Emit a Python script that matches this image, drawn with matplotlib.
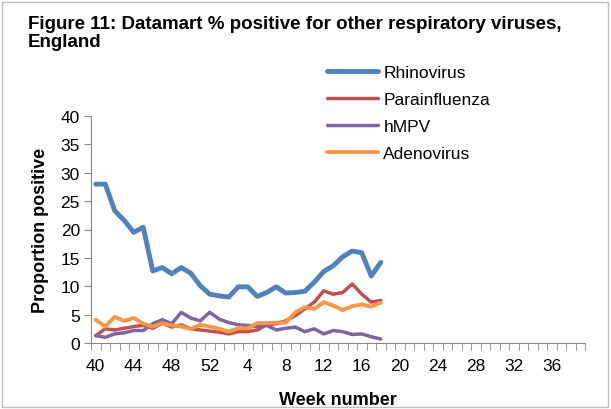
import matplotlib
matplotlib.use("Agg")
import matplotlib.pyplot as plt
from matplotlib.patches import Rectangle
from matplotlib.ticker import FixedLocator, NullFormatter

plt.rcParams['font.family'] = ['Liberation Sans', 'DejaVu Sans']

weeks = [40, 41, 42, 43, 44, 45, 46, 47, 48, 49, 50, 51, 52] + list(range(1, 40))
tick_weeks = [40, 44, 48, 52, 4, 8, 12, 16, 20, 24, 28, 32, 36]

rhinovirus = [28.0, 28.0, 23.3, 21.6, 19.5, 20.4, 12.7, 13.3, 12.2, 13.3, 12.3,
              10.1, 8.6, 8.3, 8.1, 9.9, 9.9, 8.2, 8.9, 9.9, 8.8, 8.9, 9.1, 10.7,
              12.6, 13.6, 15.2, 16.2, 15.9, 11.8, 14.2]
parainfluenza = [1.3, 2.5, 2.3, 2.6, 2.9, 3.1, 2.6, 3.5, 2.8, 3.2, 2.5, 2.3, 2.1,
                 1.9, 1.6, 2.0, 2.0, 2.3, 3.2, 3.4, 3.9, 4.8, 6.0, 7.2, 9.2, 8.6,
                 8.9, 10.4, 8.6, 7.2, 7.5]
hmpv = [1.3, 1.0, 1.6, 1.8, 2.2, 2.2, 3.4, 4.1, 3.4, 5.4, 4.4, 3.9, 5.4, 4.2,
        3.6, 3.2, 3.1, 2.9, 3.1, 2.3, 2.6, 2.8, 2.0, 2.5, 1.6, 2.2, 2.0, 1.5,
        1.6, 1.1, 0.7]
adenovirus = [4.1, 2.9, 4.6, 3.9, 4.4, 3.4, 2.9, 3.5, 3.1, 2.9, 2.5, 3.2, 2.9,
              2.5, 2.0, 2.6, 2.6, 3.5, 3.5, 3.6, 3.6, 5.4, 6.3, 6.0, 7.2, 6.6,
              5.8, 6.5, 6.8, 6.4, 7.1]

series = [("Rhinovirus", rhinovirus, "#4F81BD", 3.5),
          ("Parainfluenza", parainfluenza, "#C0504D", 2.5),
          ("hMPV", hmpv, "#8064A2", 2.5),
          ("Adenovirus", adenovirus, "#F79646", 2.8)]

W, H = 611, 410
fig = plt.figure(figsize=(W / 100, H / 100), dpi=100)
fig.patches.append(Rectangle((2 / W, 2 / H), 1 - 5 / W, 1 - 5 / H,
                             transform=fig.transFigure, fill=False,
                             edgecolor="#BFBFBF", lw=1))

left, right, top, bottom = 91, 585, 117, 344
ax = fig.add_axes([left / W, 1 - bottom / H, (right - left) / W, (bottom - top) / H])

handles = []
for name, vals, col, lw in series:
    h, = ax.plot(range(len(vals)), vals, color=col, lw=lw, label=name,
                 solid_joinstyle="round", solid_capstyle="round")
    handles.append(h)

ax.set_xlim(-0.5, len(weeks) - 0.5)
ax.set_ylim(0, 40)
ax.set_yticks(range(0, 41, 5))
tick_pos = [weeks.index(w) for w in tick_weeks]
ax.set_xticks(tick_pos)
ax.set_xticklabels([str(w) for w in tick_weeks])
ax.xaxis.set_minor_locator(FixedLocator([i - 0.5 for i in range(len(weeks) + 1)]))
ax.xaxis.set_minor_formatter(NullFormatter())
ax.tick_params(axis="x", which="major", length=0, pad=11, labelsize=12.5)
ax.tick_params(axis="x", which="minor", length=5, direction="out", color="#868686")
ax.tick_params(axis="y", which="major", length=5, direction="out", color="#868686",
               labelsize=12.5, pad=3)
for s in ["top", "right"]:
    ax.spines[s].set_visible(False)
for s in ["left", "bottom"]:
    ax.spines[s].set_color("#868686")
ax.set_facecolor("none")

ax.set_xlabel("Week number", fontsize=13, fontweight="bold", labelpad=13)
ax.set_ylabel("Proportion positive", fontsize=13, fontweight="bold", labelpad=8)

fig.text(28 / W, 1 - 16 / H, "Figure 11: Datamart % positive for other respiratory viruses,\nEngland",
         fontsize=13.5, fontweight="bold", va="top", ha="left", linespacing=1.1)

fig.legend(handles=handles, loc="upper left", bbox_to_anchor=(327 / W, 1 - 66 / H),
           frameon=False, fontsize=12.5, handlelength=2.95, handletextpad=0.3,
           labelspacing=0.68, borderpad=0, borderaxespad=0)

fig.savefig("out.png", dpi=100)
